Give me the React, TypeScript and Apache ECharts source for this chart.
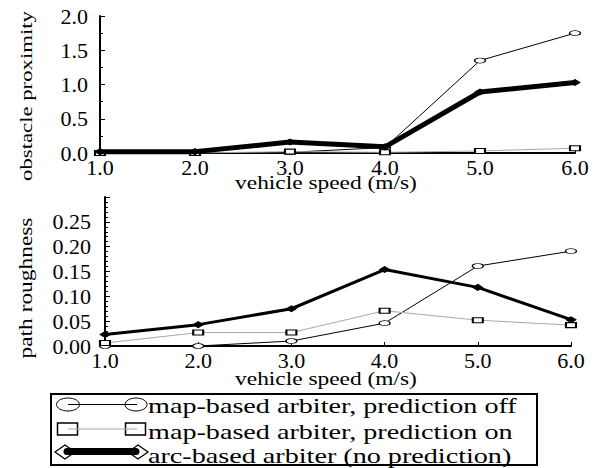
import React, { useEffect, useRef } from "react";
import * as echarts from "echarts";

const speeds = [1, 2, 3, 4, 5, 6];
const proximityMapOff = [0.0, 0.0, 0.01, 0.08, 1.35, 1.75];
const proximityMapOn = [0.0, 0.0, 0.02, 0.01, 0.03, 0.07];
const proximityArc = [0.02, 0.02, 0.16, 0.09, 0.89, 1.03];
const roughnessMapOff = [0.0, 0.0, 0.01, 0.046, 0.161, 0.191];
const roughnessMapOn = [0.006, 0.027, 0.027, 0.071, 0.052, 0.042];
const roughnessArc = [0.023, 0.043, 0.075, 0.154, 0.118, 0.053];
const legendLabels = [
  "map-based arbiter, prediction off",
  "map-based arbiter, prediction on",
  "arc-based arbiter (no prediction)",
];
const xName = "vehicle speed (m/s)";
const topYName = "obstacle proximity";
const bottomYName = "path roughness";

const FONT = "Liberation Serif";

function pairs(vals: number[]) {
  return speeds.map((s, i) => [s, vals[i]]);
}

export default function App() {
  const ref = useRef<HTMLDivElement>(null);
  useEffect(() => {
    if (!ref.current) return;
    const chart = echarts.init(ref.current, undefined, { renderer: "svg" });

    const xAxisBase = (i: number) => ({
      type: "value",
      gridIndex: i,
      min: 1,
      max: 6,
      interval: 1,
      axisLine: { show: true, lineStyle: { color: "#000", width: 2 } },
      axisTick: { show: true, inside: true, length: 4, lineStyle: { color: "#000", width: 1 } },
      axisLabel: {
        color: "#000",
        fontFamily: FONT,
        fontSize: 22,
        margin: 3,
        formatter: (v: number) => v.toFixed(1),
      },
      splitLine: { show: false },
    });

    const mapOffStyle = (xi: number, data: number[]) => ({
      type: "line",
      xAxisIndex: xi,
      yAxisIndex: xi,
      data: pairs(data),
      symbol: "circle",
      symbolSize: [11, 5],
      showAllSymbol: true,
      itemStyle: { color: "#fff", borderColor: "#000", borderWidth: 1 },
      lineStyle: { color: "#000", width: 1 },
      z: 3,
    });
    const mapOnStyle = (xi: number, data: number[]) => ({
      type: "line",
      xAxisIndex: xi,
      yAxisIndex: xi,
      data: pairs(data),
      symbol: "rect",
      symbolSize: [10, 5],
      itemStyle: { color: "#fff", borderColor: "#000", borderWidth: 1.5 },
      lineStyle: { color: "#a8a8a8", width: 1 },
      z: 4,
    });
    const arcStyle = (xi: number, data: number[], w: number) => ({
      type: "line",
      xAxisIndex: xi,
      yAxisIndex: xi,
      data: pairs(data),
      symbol: "diamond",
      symbolSize: [10, 6],
      itemStyle: { color: "#000", borderColor: "#000", borderWidth: 1 },
      lineStyle: { color: "#000", width: w },
      z: 5,
    });

    const legendGraphic: any[] = [
      {
        type: "rect",
        shape: { x: 51, y: 394, width: 486, height: 71 },
        style: { fill: "#fff", stroke: "#000", lineWidth: 2 },
        z: 10,
      },
      // row 1
      { type: "ellipse", shape: { cx: 68, cy: 404.5, rx: 11.5, ry: 6.5 }, style: { fill: "#fff", stroke: "#000", lineWidth: 1 }, z: 11 },
      { type: "ellipse", shape: { cx: 136, cy: 404.5, rx: 11, ry: 6.5 }, style: { fill: "#fff", stroke: "#000", lineWidth: 1 }, z: 11 },
      { type: "line", shape: { x1: 68, y1: 404.5, x2: 137, y2: 404.5 }, style: { stroke: "#000", lineWidth: 1.2 }, z: 12 },
      // row 2
      { type: "rect", shape: { x: 57.5, y: 423, width: 20, height: 12 }, style: { fill: "#fff", stroke: "#000", lineWidth: 1.5 }, z: 11 },
      { type: "rect", shape: { x: 125.5, y: 423, width: 20, height: 12 }, style: { fill: "#fff", stroke: "#000", lineWidth: 1.5 }, z: 11 },
      { type: "line", shape: { x1: 68, y1: 429, x2: 137, y2: 429 }, style: { stroke: "#a8a8a8", lineWidth: 1.2 }, z: 12 },
      // row 3
      { type: "polygon", shape: { points: [[55, 452], [65, 445], [75, 452], [65, 459]] }, style: { fill: "#fff", stroke: "#000", lineWidth: 1.3 }, z: 11 },
      { type: "polygon", shape: { points: [[128, 452], [138, 445], [148, 452], [138, 459]] }, style: { fill: "#fff", stroke: "#000", lineWidth: 1.3 }, z: 11 },
      { type: "line", shape: { x1: 67, y1: 451.5, x2: 136, y2: 451.5 }, style: { stroke: "#000", lineWidth: 7, lineCap: "round" }, z: 12 },
    ];
    const legendYs = [405, 431, 455];
    legendLabels.forEach((t, i) => {
      legendGraphic.push({
        type: "text",
        x: 148,
        y: legendYs[i],
        scaleX: 1.28,
        style: {
          text: t,
          fontFamily: FONT,
          fontSize: 22,
          fill: "#000",
          align: "left",
          verticalAlign: "middle",
        },
        z: 13,
      });
    });

    const nameGraphic: any[] = [
      {
        type: "text",
        x: 326,
        y: 183,
        scaleX: 1.3,
        style: { text: xName, fontFamily: FONT, fontSize: 18, fill: "#000", align: "center", verticalAlign: "middle" },
      },
      {
        type: "text",
        x: 326,
        y: 379,
        scaleX: 1.3,
        style: { text: xName, fontFamily: FONT, fontSize: 18, fill: "#000", align: "center", verticalAlign: "middle" },
      },
      {
        type: "text",
        x: 26,
        y: 96,
        rotation: Math.PI / 2,
        scaleX: 1.3,
        style: { text: topYName, fontFamily: FONT, fontSize: 17.5, fill: "#000", align: "center", verticalAlign: "middle" },
      },
      {
        type: "text",
        x: 26,
        y: 288,
        rotation: Math.PI / 2,
        scaleX: 1.3,
        style: { text: bottomYName, fontFamily: FONT, fontSize: 18, fill: "#000", align: "center", verticalAlign: "middle" },
      },
    ];

    const option: any = {
      animation: false,
      backgroundColor: "#fff",
      grid: [
        { left: 100, top: 16, width: 475, height: 137 },
        { left: 105, top: 197, width: 466, height: 149 },
      ],
      xAxis: [xAxisBase(0), xAxisBase(1)],
      yAxis: [
        {
          type: "value",
          gridIndex: 0,
          min: 0,
          max: 2,
          interval: 0.5,
          axisLine: { show: true, lineStyle: { color: "#000", width: 2 } },
          axisTick: { show: true, inside: true, length: 5, lineStyle: { color: "#000", width: 1 } },
          minorTick: { show: true, splitNumber: 2, length: 3, lineStyle: { color: "#000", width: 1 } },
          axisLabel: {
            color: "#000",
            fontFamily: FONT,
            fontSize: 22,
            margin: 12,
            formatter: (v: number) => v.toFixed(1),
          },
          splitLine: { show: false },
          minorSplitLine: { show: false },
        },
        {
          type: "value",
          gridIndex: 1,
          min: 0,
          max: 0.3,
          interval: 0.05,
          axisLine: { show: true, lineStyle: { color: "#000", width: 2 } },
          axisTick: { show: true, inside: true, length: 5, lineStyle: { color: "#000", width: 1 } },
          minorTick: { show: true, splitNumber: 5, length: 3, lineStyle: { color: "#000", width: 1 } },
          axisLabel: {
            color: "#000",
            fontFamily: FONT,
            fontSize: 22,
            margin: 14,
            showMaxLabel: false,
            formatter: (v: number) => (v > 0.29 ? "" : v.toFixed(2)),
          },
          splitLine: { show: false },
          minorSplitLine: { show: false },
        },
      ],
      series: [
        mapOffStyle(0, proximityMapOff),
        mapOnStyle(0, proximityMapOn),
        arcStyle(0, proximityArc, 5),
        mapOffStyle(1, roughnessMapOff),
        mapOnStyle(1, roughnessMapOn),
        arcStyle(1, roughnessArc, 3),
      ],
      graphic: [...nameGraphic, ...legendGraphic],
    };
    chart.setOption(option);
    return () => chart.dispose();
  }, []);

  return (
    <div
      ref={ref}
      style={{ position: "fixed", left: 0, top: 0, width: 596, height: 468, background: "#fff" }}
    />
  );
}
